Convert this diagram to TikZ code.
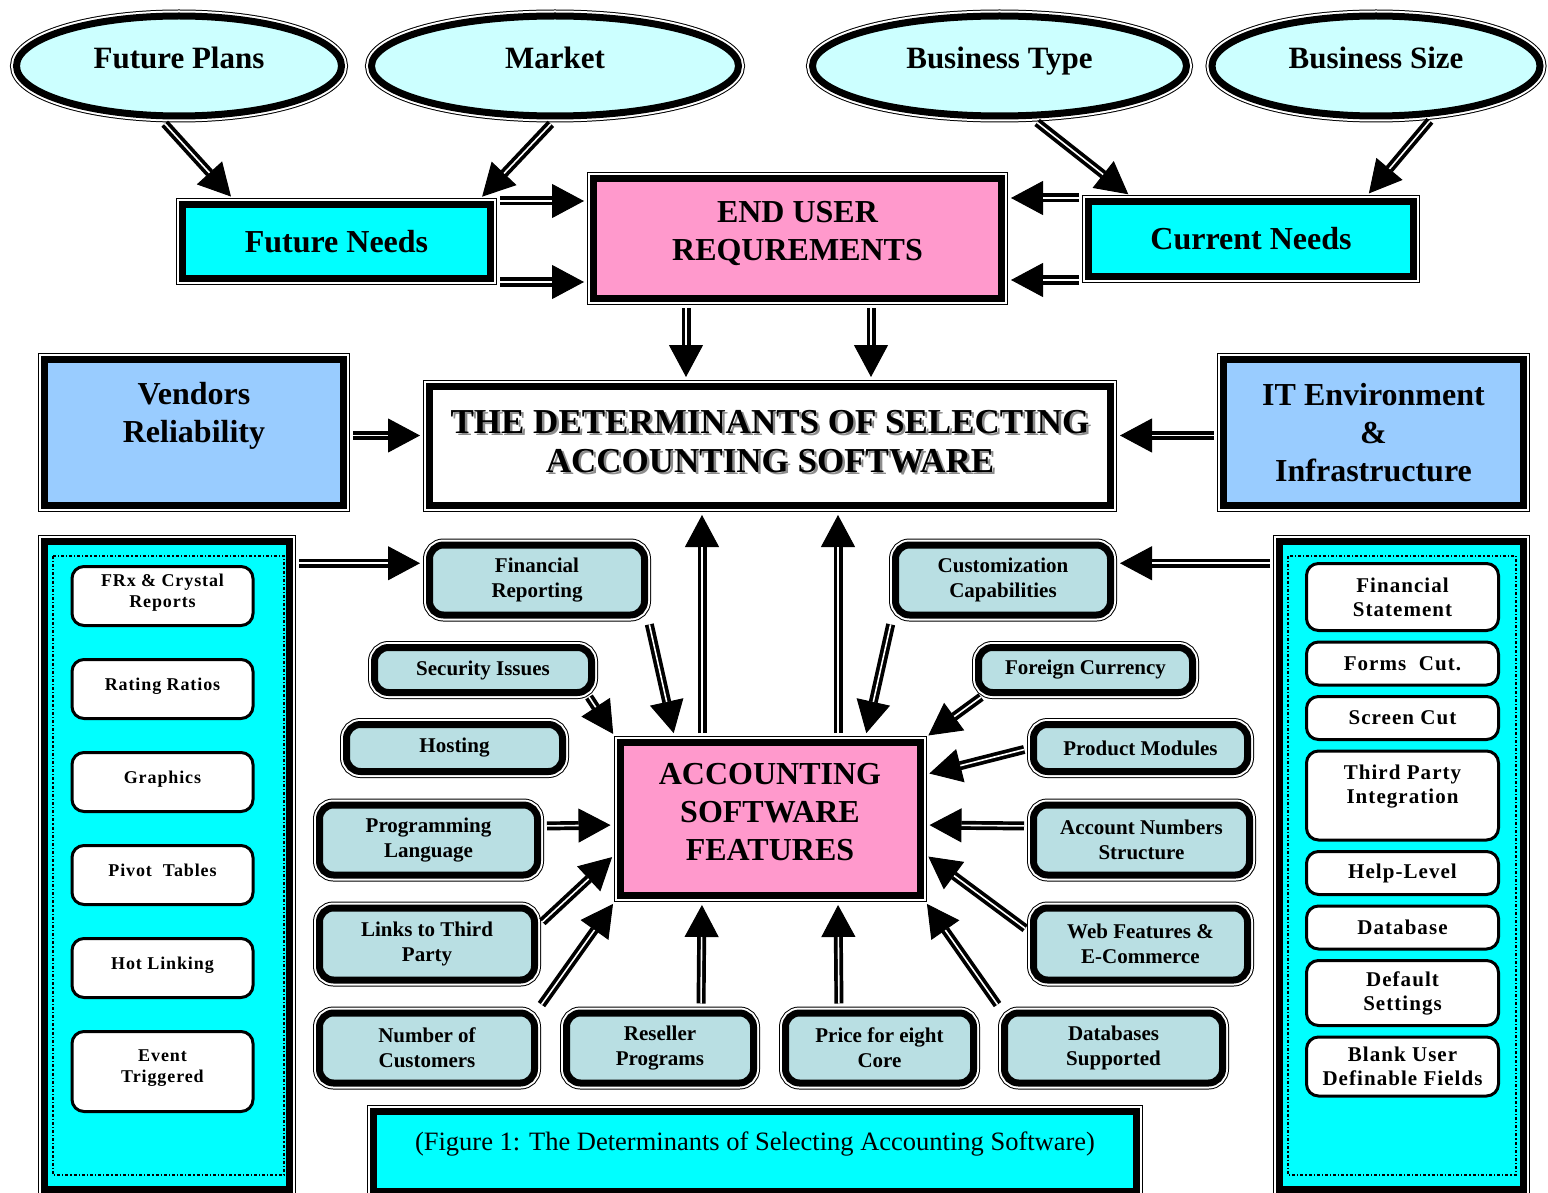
\documentclass[tikz,border=0pt]{standalone}
\usepackage{fontspec}
\setmainfont{Liberation Serif}
\newfontfamily\sidefont[LetterSpace=5]{Liberation Serif}
\usepackage{xcolor}
\usetikzlibrary{positioning, arrows.meta, shapes.geometric}
\definecolor{palecyan}{RGB}{204,255,255}
\definecolor{cyanfill}{RGB}{0,255,255}
\definecolor{pinkfill}{RGB}{255,153,204}
\definecolor{skyfill}{RGB}{153,204,255}
\definecolor{featblue}{RGB}{185,223,227}
\newcommand\shtext[1]{\makebox[0pt][l]{\kern2.5pt\raisebox{-2.5pt}{\textcolor{black!45}{#1}}}#1}

\begin{document}
\begin{tikzpicture}[x=1pt, y=-1pt,
  dborder/.style={draw, line width=7pt, preaction={draw, line width=13pt}, preaction={draw=white, line width=11pt}},
  ell/.style={dborder, ellipse, fill=palecyan, inner sep=0pt, text depth=16pt, font=\fontsize{31}{36}\selectfont\bfseries},
  bigbox/.style={dborder, rectangle, inner sep=0pt, align=center, font=\fontsize{32}{38}\selectfont\bfseries},
  fbox/.style={dborder, rectangle, rounded corners=14pt, fill=featblue, inner sep=0pt, align=center, font=\fontsize{21}{25}\selectfont\bfseries},
  litem/.style={draw, line width=3pt, rounded corners=12pt, fill=white, inner sep=0pt, align=center, minimum width=181pt, text depth=10pt, font=\sidefont\bfseries\fontsize{18}{21}\selectfont},
  ritem/.style={draw, line width=3pt, rounded corners=12pt, fill=white, inner sep=0pt, align=center, minimum width=192pt, font=\sidefont\bfseries\fontsize{21}{24}\selectfont},
  arr/.style={line width=9pt, -{Triangle[length=32pt, width=34pt, line width=1pt]}, shorten >=6pt, shorten <=6pt,
    postaction={draw=white, line width=1.6pt, -, shorten >=38pt}}]
  \useasboundingbox (0,0) rectangle (1548,1193);

  % top level
  \node[ell, minimum width=325pt, minimum height=100pt] (fpl) at (179,66) {Future Plans};
  \node[ell, minimum width=367pt, minimum height=100pt] (mkt) at (555,66) {Market};
  \node[ell, minimum width=374pt, minimum height=100pt] (btype) at (999.5,66) {Business Type};
  \node[ell, minimum width=328pt, minimum height=100pt] (bsize) at (1376,66) {Business Size};
  \node[bigbox, fill=cyanfill, minimum width=308pt, minimum height=74pt] (fneed) at (336.5,241.5) {Future Needs};
  \node[bigbox, fill=pinkfill, minimum width=408pt, minimum height=120pt, text depth=15pt] (eur) at (797.5,238.5) {END USER\\REQUREMENTS};
  \node[bigbox, fill=cyanfill, minimum width=325pt, minimum height=75pt] (cneed) at (1251,239) {Current Needs};

  % middle level
  \node[bigbox, fill=white, minimum width=681pt, minimum height=119pt, text depth=10pt, font=\fontsize{35}{39}\selectfont\bfseries] (det) at (770,446)
    {\shtext{THE DETERMINANTS OF SELECTING}\\\shtext{ACCOUNTING SOFTWARE}};
  \node[bigbox, fill=skyfill, minimum width=299pt, minimum height=146pt, text depth=40pt] (vend) at (194,432.5) {Vendors\\Reliability};
  \node[bigbox, fill=skyfill, minimum width=300pt, minimum height=146pt] (itenv) at (1373.5,432.5) {IT Environment\\\&\\Infrastructure};
  \node[bigbox, fill=pinkfill, minimum width=300pt, minimum height=153pt, text depth=14pt] (asf) at (770,819) {ACCOUNTING\\SOFTWARE\\FEATURES};

  % side bars
  \node[bigbox, fill=cyanfill, minimum width=245pt, minimum height=648pt] (lbar) at (167,865.75) {};
  \node[bigbox, fill=cyanfill, minimum width=244pt, minimum height=648pt] (rbar) at (1401.5,865.75) {};
  \draw[line width=1.2pt, dash dot] (53,556) rectangle (284,1175);
  \draw[line width=1.2pt, dash dot] (1288,556) rectangle (1516,1175);

  \node[litem, minimum height=59pt] (frx) at (162.5,596) {FRx \& Crystal\\Reports};
  \node[litem, minimum height=59pt, below=31pt of frx] (ratio) {Rating Ratios};
  \node[litem, minimum height=59pt, below=31pt of ratio] (graph) {Graphics};
  \node[litem, minimum height=59pt, below=31pt of graph] (pivot) {Pivot\ \ Tables};
  \node[litem, minimum height=59pt, below=31pt of pivot] (hotl) {Hot Linking};
  \node[litem, minimum height=80pt, below=31pt of hotl] (event) {Event\\Triggered};

  \node[ritem, minimum height=67pt] (fstat) at (1402.5,597) {Financial\\Statement};
  \node[ritem, minimum height=43pt, below=8.5pt of fstat] (forms) {Forms\ \ Cut.};
  \node[ritem, minimum height=43pt, below=8.5pt of forms] (scrn) {Screen Cut};
  \node[ritem, minimum height=89pt, below=8.5pt of scrn, text depth=22pt] (third) {Third Party\\Integration};
  \node[ritem, minimum height=43pt, below=8.5pt of third] (help) {Help-Level};
  \node[ritem, minimum height=43pt, below=8.5pt of help] (dbase) {Database};
  \node[ritem, minimum height=65pt, below=8.5pt of dbase] (dflt) {Default\\Settings};
  \node[ritem, minimum height=59pt, below=8.5pt of dflt] (blank) {Blank User\\Definable Fields};

  % feature boxes
  \node[fbox, minimum width=215pt, minimum height=70pt] (frep) at (537,580) {Financial\\Reporting};
  \node[fbox, minimum width=215pt, minimum height=70pt] (cust) at (1003,580) {Customization\\Capabilities};
  \node[fbox, minimum width=217pt, minimum height=45pt] (secu) at (483,670) {Security Issues};
  \node[fbox, minimum width=214pt, minimum height=45pt] (fcur) at (1085.5,670) {Foreign Currency};
  \node[fbox, minimum width=216pt, minimum height=47pt] (host) at (454.5,748) {Hosting};
  \node[fbox, minimum width=214pt, minimum height=47pt] (prod) at (1140.5,748) {Product Modules};
  \node[fbox, minimum width=218pt, minimum height=70pt] (prog) at (428.5,840) {Programming\\Language};
  \node[fbox, minimum width=216pt, minimum height=70pt] (accn) at (1141.5,840) {Account Numbers\\Structure};
  \node[fbox, minimum width=215pt, minimum height=72pt] (link) at (427,944) {Links to Third\\Party};
  \node[fbox, minimum width=214pt, minimum height=72pt] (webf) at (1140.5,944) {Web Features \&\\E-Commerce};
  \node[fbox, minimum width=215pt, minimum height=70pt] (ncus) at (427,1048) {Number of\\Customers};
  \node[fbox, minimum width=187pt, minimum height=70pt] (resl) at (660,1048) {Reseller\\Programs};
  \node[fbox, minimum width=188pt, minimum height=70pt] (pric) at (879.5,1048) {Price for eight\\Core};
  \node[fbox, minimum width=218pt, minimum height=70pt] (dbsu) at (1113.5,1048) {Databases\\Supported};

  \node[bigbox, fill=cyanfill, minimum width=763pt, minimum height=80pt, text depth=20pt, font=\fontsize{26.5}{30}\selectfont] (capt) at (755,1151.5)
    {(Figure 1: The Determinants of Selecting Accounting Software)};

  % connectors, top
  \draw[arr] (fpl.-109) -- ([xshift=-101.5pt]fneed.north);
  \draw[arr] (mkt.south) -- ([xshift=141.5pt]fneed.north);
  \draw[arr] (btype.-58) -- ([xshift=-118pt]cneed.north);
  \draw[arr] (bsize.-41) -- ([xshift=114pt]cneed.north);
  \draw[arr] (fneed.north east) -- (fneed.north east -| eur.west);
  \draw[arr] (fneed.south east) -- (fneed.south east -| eur.west);
  \draw[arr] (cneed.north west) -- (cneed.north west -| eur.east);
  \draw[arr] (cneed.south west) -- (cneed.south west -| eur.east);
  \draw[arr] ([xshift=-111.5pt]eur.south) -- ([xshift=-84pt]det.north);
  \draw[arr] ([xshift=73.5pt]eur.south) -- ([xshift=101pt]det.north);
  \draw[arr] ([yshift=-3pt]vend.east) -- ([yshift=-3pt]vend.east -| det.west);
  \draw[arr] ([yshift=-3pt]itenv.west) -- ([yshift=-3pt]itenv.west -| det.east);

  % connectors, features
  \coordinate (lbarout) at ([yshift=-25pt]lbar.north east);
  \coordinate (rbarout) at ([yshift=-25pt]rbar.north west);
  \draw[arr] (lbarout) -- (lbarout -| frep.west);
  \draw[arr] (rbarout) -- (rbarout -| cust.east);
  \draw[arr] ([xshift=-68pt]asf.north) -- ([xshift=-68pt]det.south);
  \draw[arr] ([xshift=68pt]asf.north) -- ([xshift=68pt]det.south);
  \draw[arr] (frep.south east) -- ([xshift=-95pt]asf.north);
  \draw[arr] (cust.south west) -- ([xshift=95pt]asf.north);
  \draw[arr, shorten <=0pt] ([shift={(-6pt,-1pt)}]secu.south east) -- (asf.north west);
  \draw[arr, shorten <=0pt] ([shift={(6pt,-1pt)}]fcur.south west) -- (asf.north east);
  \draw[arr] (prod.west) -- ([yshift=44pt]asf.east);
  \draw[arr] ([yshift=14pt]prog.east) -- ([yshift=-6pt]asf.west);
  \draw[arr] ([yshift=14pt]accn.west) -- ([yshift=-6pt]asf.east);
  \draw[arr] ([yshift=18pt]link.east) -- ([yshift=-34pt]asf.west);
  \draw[arr] ([yshift=12pt]webf.west) -- ([yshift=-34pt]asf.east);
  \draw[arr] (ncus.north east) -- (asf.south west);
  \draw[arr] ([xshift=41pt]resl.north) -- ([xshift=-68pt]asf.south);
  \draw[arr] ([xshift=-40.5pt]pric.north) -- ([xshift=68pt]asf.south);
  \draw[arr] (dbsu.north west) -- (asf.south east);
\end{tikzpicture}
\end{document}
